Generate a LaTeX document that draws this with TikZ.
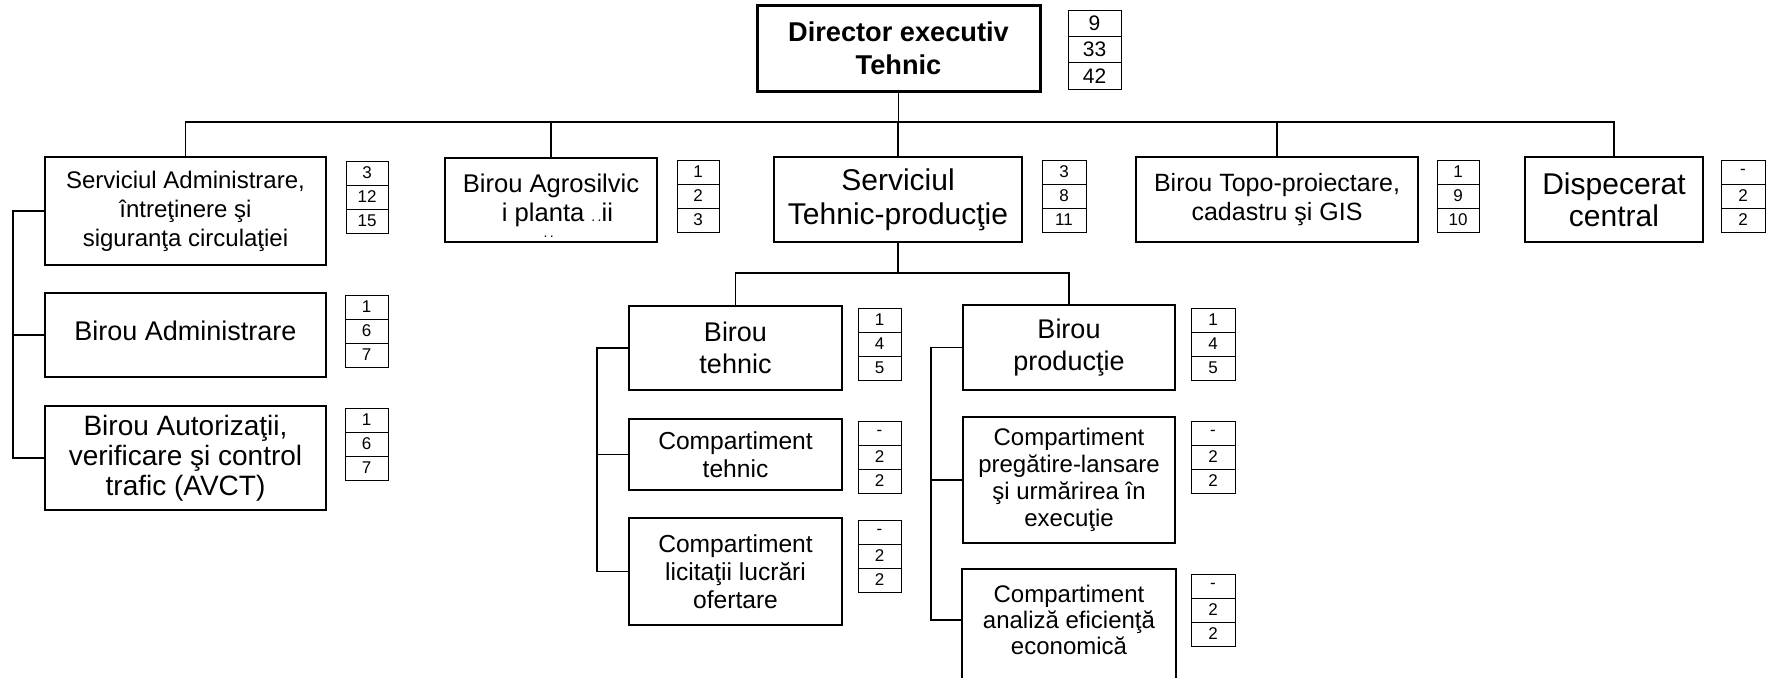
\documentclass[tikz,border=0pt]{standalone}
\usepackage{fontspec}
\setmainfont{Liberation Sans}

\tikzset{
  unitbox/.style={draw, line width=1pt, align=center, inner sep=0pt, fill=white},
  cell/.style={draw, line width=0.5pt, inner sep=0pt, font=\fontsize{8.5}{10}\selectfont},
  link/.style={line width=0.8pt},
  fs/.style 2 args={font=\fontsize{#1}{#2}\selectfont},
}

% box of one unit: [options]{name}{x1}{y1}{x2}{y2}{text}, corners in px
\newcommand\orgunit[7][]{%
  \node[unitbox,#1,minimum width={(#5-#3)*0.5pt},minimum height={(#6-#4)*0.5pt}]
    (#2) at ({(#3+#5)/2},{(#4+#6)/2}) {#7};}

% staff table of three stacked cells: [options]{name}{x1}{y1}{x2}{y2}{a}{b}{c}
\newcommand\tally[9][]{%
  \pgfmathsetmacro\cellw{(#5-#3)*0.5}%
  \pgfmathsetmacro\cellh{(#6-#4)/3*0.5}%
  \node[cell,#1,minimum width=\cellw pt,minimum height=\cellh pt]
    (#2-1) at ({(#3+#5)/2},{#4+(#6-#4)/6}) {#7};
  \node[cell,#1,minimum width=\cellw pt,minimum height=\cellh pt]
    (#2-2) at ({(#3+#5)/2},{(#4+#6)/2}) {#8};
  \node[cell,#1,minimum width=\cellw pt,minimum height=\cellh pt]
    (#2-3) at ({(#3+#5)/2},{#6-(#6-#4)/6}) {#9};}

% stray marks printed below a line, taking no room
\newcommand\lowdots{\makebox[0pt]{\smash{\raisebox{-8pt}{\scriptsize.\,.}}}}

\begin{document}
\begin{tikzpicture}[x=0.5pt,y=-0.5pt]
\useasboundingbox (0,0) rectangle (1767,677);
\clip (0,0) rectangle (1767,677);
\fill[white] (0,0) rectangle (1767,677);

% top management
\orgunit[line width=1.5pt,fs={13.6}{16.5}]{dir}{757}{5}{1040}{91}{\bfseries Director executiv\\\bfseries Tehnic}
\tally[font=\fontsize{10.5}{12}\selectfont]{dirn}{1068}{10}{1121}{89}{9}{33}{42}

% first level
\orgunit[fs={12}{14.5}]{sa}{45}{157}{326}{265}{Serviciul Administrare,\\întreţinere şi\\siguranţa circulaţiei}
\tally{san}{346}{161}{388}{233}{3}{12}{15}

\orgunit[fs={12.8}{14.5}]{ba}{445}{158}{657}{242}{Birou Agrosilvic\\\phantom{ş}i pla\lowdots nta {\scriptsize.\,.}ii}
\tally{ban}{677}{160}{719}{232}{1}{2}{3}

\orgunit[fs={15}{17}]{st}{774}{157}{1022}{242}{Serviciul\\Tehnic-producţie}
\tally{stn}{1042}{160}{1086}{232}{3}{8}{11}

\orgunit[fs={12.5}{14.5}]{topo}{1136}{157}{1418}{242}{Birou Topo-proiectare,\\cadastru şi GIS}
\tally{topon}{1437}{160}{1479}{232}{1}{9}{10}

\orgunit[fs={15}{16}]{disp}{1525}{157}{1703}{242}{Dispecerat\\central}
\tally{dispn}{1721}{160}{1765}{232}{-}{2}{2}

% under Serviciul Administrare
\orgunit[fs={13.5}{16}]{badm}{45}{293}{326}{377}{\raisebox{4pt}{Birou Administrare}}
\tally{badmn}{345}{295}{388}{367}{1}{6}{7}

\orgunit[fs={14}{15}]{baut}{45}{406}{326}{510}{Birou Autorizaţii,\\verificare şi control\\trafic (AVCT)}
\tally{bautn}{345}{408}{388}{480}{1}{6}{7}

% under Serviciul Tehnic-productie
\orgunit[fs={13.5}{16}]{bteh}{629}{306}{842}{390}{Birou\\tehnic}
\tally{btehn}{858}{308}{901}{380}{1}{4}{5}

\orgunit[fs={12.3}{14}]{cteh}{629}{419}{842}{490}{Compartiment\\tehnic}
\tally{ctehn}{858}{421}{901}{493}{-}{2}{2}

\orgunit[fs={12.3}{14}]{clic}{629}{518}{842}{625}{Compartiment\\licitaţii lucrări\\ofertare}
\tally{clicn}{858}{520}{901}{592}{-}{2}{2}

\orgunit[fs={13.5}{16}]{bprod}{963}{305}{1175}{390}{Birou\\producţie}
\tally{bprodn}{1191}{308}{1235}{380}{1}{4}{5}

\orgunit[fs={12}{13.5}]{cpreg}{963}{417}{1175}{543}{Compartiment\\pregătire-lansare\\şi urmărirea în\\execuţie}
\tally{cpregn}{1191}{421}{1235}{493}{-}{2}{2}

% last box runs past the lower edge
\orgunit[draw=none,fs={12}{13}]{canal}{963}{570}{1175}{670}{Compartiment\\analiză eficienţă\\economică}
\draw[line width=1pt] ([yshift=-40pt]canal.south west) |- (canal.north east) -- ([yshift=-40pt]canal.south east);
\tally{canaln}{1191}{574}{1235}{646}{-}{2}{2}

% main bus
\coordinate (bus) at (0,122);
\draw[link] (dir.south) -- (dir.south |- bus);
\draw[link] (sa.north) -- (sa.north |- bus) -- (disp.north |- bus) -- (disp.north);
\foreach \n in {ba,st,topo} \draw[link] (\n.north) -- (\n.north |- bus);

% bus below Serviciul Tehnic-productie
\coordinate (sub) at (0,273);
\draw[link] (st.south) -- (st.south |- sub);
\draw[link] (bteh.north) -- (bteh.north |- sub) -- (bprod.north |- sub) -- (bprod.north);

% side spines
\coordinate (spA) at (13,0);
\draw[link] (sa.west) -- (sa.west -| spA) |- (baut.west);
\draw[link] (badm.west) -- (badm.west -| spA);

\coordinate (spB) at (597,0);
\draw[link] (bteh.west) -- (bteh.west -| spB) |- (clic.west);
\draw[link] (cteh.west) -- (cteh.west -| spB);

\coordinate (spC) at (931,0);
\draw[link] (bprod.west) -- (bprod.west -| spC) |- (canal.west);
\draw[link] (cpreg.west) -- (cpreg.west -| spC);
\end{tikzpicture}
\end{document}
